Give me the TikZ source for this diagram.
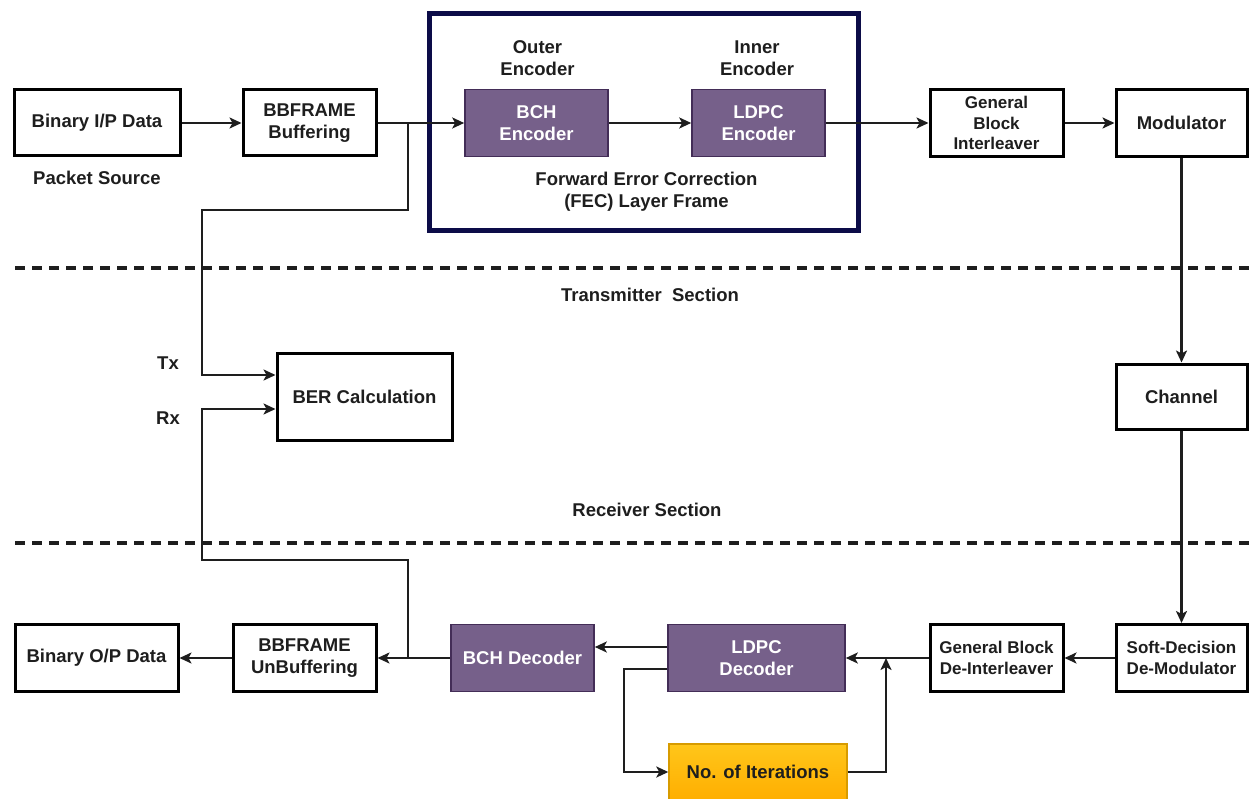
\documentclass[tikz,border=0pt]{standalone}
\usepackage{fontspec}
\setmainfont{Liberation Sans}
\usetikzlibrary{arrows.meta,positioning,calc}
\definecolor{fecnavy}{HTML}{0C0C48}
\definecolor{decpurple}{HTML}{76608A}
\definecolor{decedge}{HTML}{432D57}
\definecolor{itertop}{HTML}{FFC61A}
\definecolor{iterbot}{HTML}{FFAE00}
\definecolor{iteredge}{HTML}{D79B00}
\definecolor{txtink}{HTML}{1E1E1E}
\newcommand\mainsz{\fontsize{18.5}{22.5}\selectfont}
\newcommand\smallsz{\fontsize{17}{20.5}\selectfont}
\tikzset{
  bx/.style={align=center, font=\mainsz\bfseries, inner sep=2pt, text=txtink},
  blk/.style={bx, draw=black, line width=3pt, fill=white},
  blks/.style={blk, font=\smallsz\bfseries},
  fec/.style={bx, draw=decedge, line width=1.6pt, fill=decpurple, text=white},
  itr/.style={bx, draw=iteredge, line width=1.4pt, top color=itertop, bottom color=iterbot},
  lbl/.style={bx, inner sep=0pt},
  arr/.style={-{Stealth[length=12pt, width=11pt, inset=3pt]}, line width=2.4pt, color=txtink},
  sect/.style={dashed, dash pattern=on 10pt off 7pt, line width=3.6pt, color=txtink},
}
\begin{document}
\begin{tikzpicture}[x=1pt, y=-1pt]
  \useasboundingbox (0,0) rectangle (1249,799);
  % transmitter chain
  \node[blk, minimum width=166pt, minimum height=66pt] (binIn) at (97,123) {Binary I/P Data};
  \node[blk, minimum width=133pt, minimum height=66pt] (bbBuf) at (309.5,123) {BBFRAME\\Buffering};
  \node[fec, minimum width=143pt, minimum height=67pt] (bchEnc) at (536.5,123) {BCH\\Encoder};
  \node[fec, minimum width=133pt, minimum height=67pt] (ldpcEnc) at (758.5,123) {LDPC\\Encoder};
  \node[blks, minimum width=133pt, minimum height=67pt] (interl) at (996.5,123) {General\\Block\\Interleaver};
  \node[blk, minimum width=131pt, minimum height=67pt] (modul) at (1181.5,123) {Modulator};
  \draw[fecnavy, line width=5pt] (429,14) rectangle (858,231);
  \node[lbl] (outerLbl) at (537.5,58) {Outer\\Encoder};
  \node[lbl] (innerLbl) at (757,58) {Inner\\Encoder};
  \node[lbl] (fecLbl) at (646.5,191.5) {Forward Error Correction\\(FEC) Layer Frame};
  \node[lbl] (pktLbl) at (97,178) {Packet Source};
  % section borders
  \coordinate (dashTL) at (15,268);
  \coordinate (dashTR) at (1249,268);
  \coordinate (dashBL) at (15,543);
  \coordinate (dashBR) at (1249,543);
  \draw[sect] (dashTL) -- (dashTR);
  \draw[sect] (dashBL) -- (dashBR);
  \node[lbl] (txSec) at (650,295) {Transmitter\ \ Section};
  \node[lbl] (rxSec) at (647,510) {Receiver Section};
  % middle
  \node[blk, minimum width=175pt, minimum height=87pt] (ber) at (364.5,396.5) {BER Calculation};
  \node[blk, minimum width=131pt, minimum height=65pt] (chan) at (1181.5,396.5) {Channel};
  \node[lbl] (txLbl) at (168,363) {Tx};
  \node[lbl] (rxLbl) at (168,418) {Rx};
  % receiver chain
  \node[blk, minimum width=163pt, minimum height=67pt] (binOut) at (96.5,658) {Binary O/P Data};
  \node[blk, minimum width=143pt, minimum height=67pt] (unbuf) at (304.5,658) {BBFRAME\\UnBuffering};
  \node[fec, minimum width=143pt, minimum height=67pt] (bchDec) at (522.5,658) {BCH Decoder};
  \node[fec, minimum width=177pt, minimum height=67pt] (ldpcDec) at (756.5,658) {LDPC\\Decoder};
  \node[blks, minimum width=133pt, minimum height=67pt] (deint) at (996.5,658) {General Block\\De-Interleaver};
  \node[blks, minimum width=131pt, minimum height=67pt] (softDem) at (1181.5,658) {Soft-Decision\\De-Modulator};
  \node[itr, minimum width=178pt, minimum height=56pt] (iter) at (758,772) {No. of Iterations};
  % connectors
  \foreach \a/\b in {binIn/bbBuf, bbBuf/bchEnc, bchEnc/ldpcEnc, ldpcEnc/interl, interl/modul,
                     modul/chan, chan/softDem, softDem/deint, deint/ldpcDec, bchDec/unbuf, unbuf/binOut}
    \draw[arr] (\a) -- (\b);
  \coordinate (txTap) at (408,123);
  \coordinate (rxTap) at (408,658);
  \coordinate (iterJoin) at (886,658);
  \draw[arr] (txTap) -- (408,210) -- (202,210) |- ([yshift=21.5pt]ber.west);
  \draw[arr] (rxTap) -- (408,560) -- (202,560) |- ([yshift=-12.5pt]ber.west);
  \draw[arr] ([yshift=11pt]ldpcDec.west) -- ([yshift=11pt]bchDec.east);
  \draw[arr] ([yshift=-11pt]ldpcDec.west) -- ++(-43,0) |- (iter.west);
  \draw[arr] (iter.east) -| (iterJoin);
\end{tikzpicture}
\end{document}
